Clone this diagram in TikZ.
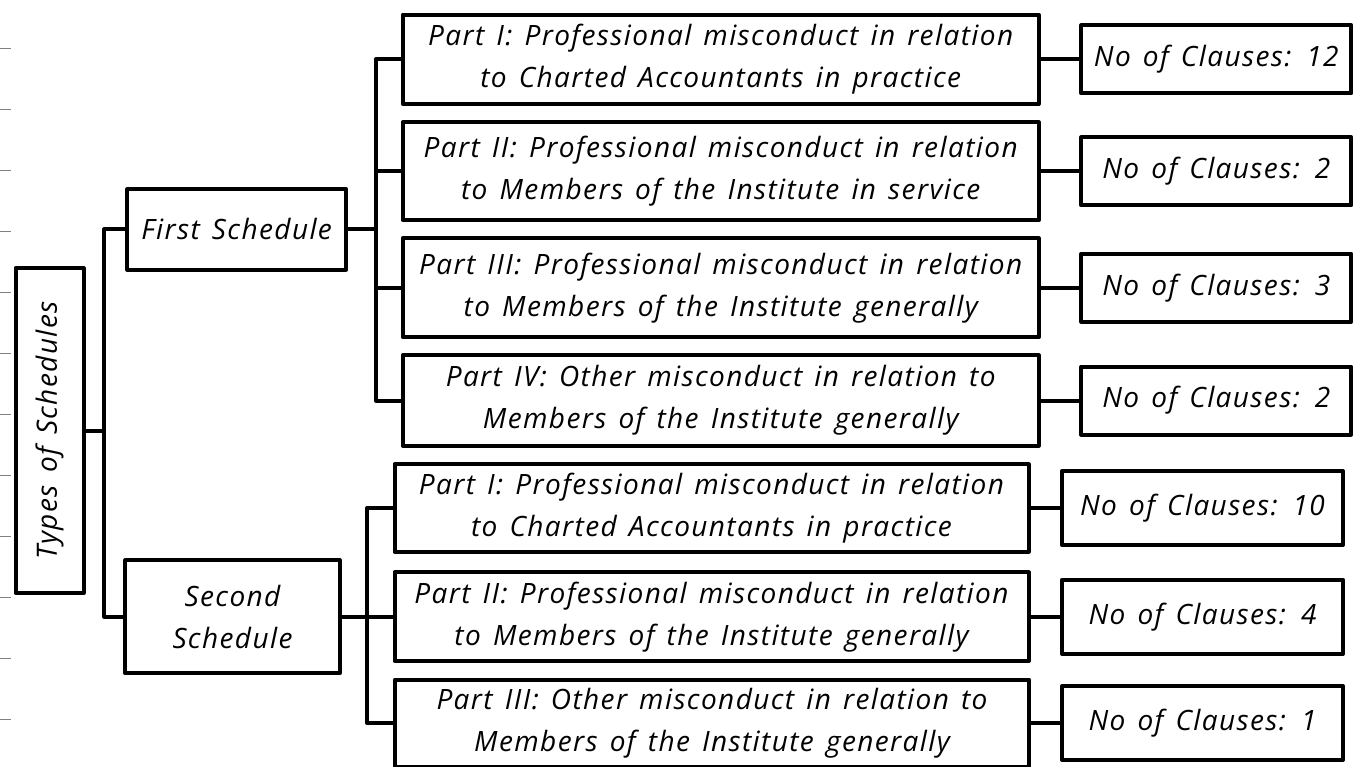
\documentclass[tikz,border=0pt]{standalone}
\usepackage{fontspec}
\setmainfont{Open Sans}
\newfontfamily\handfont[LetterSpace=5,WordSpace=1.4]{Open Sans}
\begin{document}
\begin{tikzpicture}[x=1pt,y=-1pt,
  box/.style={draw=black, line width=4pt, line join=round, fill=white,
    inner sep=0pt, align=center, font=\handfont\itshape\fontsize{28}{42}\selectfont},
  partbox/.style={box, minimum width=636pt},
  partboxb/.style={box, minimum width=634pt},
  clausebox/.style={box, minimum width=270pt, minimum height=68pt},
  clauseboxb/.style={box, minimum width=281pt, minimum height=74pt},
  link/.style={draw=black, line width=4pt, line join=round},
  tick/.style={draw=gray, line width=1.4pt}]
\useasboundingbox (0,0) rectangle (1363,767);

% ruler ticks along the left edge
\foreach \k in {0,...,11}
  \draw[tick] (0,{48.3+61*\k}) -- (11,{48.3+61*\k});

% root
\node[box, rotate=90, minimum width=325pt, minimum height=68pt] (types) at (49.5,430.6) {Types of Schedules};

% schedules
\node[box, minimum width=218.7pt, minimum height=80.4pt] (first) at (236.7,229.5) {First Schedule};
\node[box, minimum width=214.4pt, minimum height=113pt] (second) at (232.5,616.8) {Second\\Schedule};

% parts of the first schedule
\node[partbox, minimum height=89.3pt] (p1) at (720.7,59.3) {Part I: Professional misconduct in relation\\to Charted Accountants in practice};
\node[partbox, minimum height=97.7pt] (p2) at (720.7,171.3) {Part II: Professional misconduct in relation\\to Members of the Institute in service};
\node[partbox, minimum height=99pt] (p3) at (720.7,287.7) {Part III: Professional misconduct in relation\\to Members of the Institute generally};
\node[partbox, minimum height=90.4pt] (p4) at (720.7,400.5) {Part IV: Other misconduct in relation to\\Members of the Institute generally};

% parts of the second schedule
\node[partboxb, minimum height=87.7pt] (p5) at (711.5,508) {Part I: Professional misconduct in relation\\to Charted Accountants in practice};
\node[partboxb, minimum height=88.7pt] (p6) at (711.5,616.8) {Part II: Professional misconduct in relation\\to Members of the Institute generally};
\node[partboxb, minimum height=87pt] (p7) at (712,723) {Part III: Other misconduct in relation to\\Members of the Institute generally};

% clause counts
\node[clausebox] (c1) at (1216.3,59.3) {No of Clauses: 12};
\node[clausebox] (c2) at (1216.3,171.3) {No of Clauses: 2};
\node[clausebox] (c3) at (1216.3,287.7) {No of Clauses: 3};
\node[clausebox] (c4) at (1216.3,400.5) {No of Clauses: 2};
\node[clauseboxb] (c5) at (1202.5,508) {No of Clauses: 10};
\node[clauseboxb] (c6) at (1202.5,616.8) {No of Clauses: 4};
\node[clauseboxb] (c7) at (1202.5,723) {No of Clauses: 1};

% bracket positions
\coordinate (b0) at (104.3,0);
\coordinate (b1) at (376,0);
\coordinate (b2) at (367.3,0);

% root to schedules
\draw[link] (types.south) -- (types.south -| b0);
\draw[link] (first.west) -- (first.west -| b0) -- (second.west -| b0) -- (second.west);

% first schedule to its parts
\draw[link] (first.east) -- (first.east -| b1);
\draw[link] (p1.west) -- (p1.west -| b1) -- (p4.west -| b1) -- (p4.west);
\draw[link] (p2.west) -- (p2.west -| b1);
\draw[link] (p3.west) -- (p3.west -| b1);

% second schedule to its parts
\draw[link] (second.east) -- (second.east -| b2);
\draw[link] (p5.west) -- (p5.west -| b2) -- (p7.west -| b2) -- (p7.west);
\draw[link] (p6.west) -- (p6.west -| b2);

% parts to clause counts
\foreach \p/\c in {p1/c1,p2/c2,p3/c3,p4/c4,p5/c5,p6/c6,p7/c7}
  \draw[link] (\p.east) -- (\p.east -| \c.west);
\end{tikzpicture}
\end{document}
